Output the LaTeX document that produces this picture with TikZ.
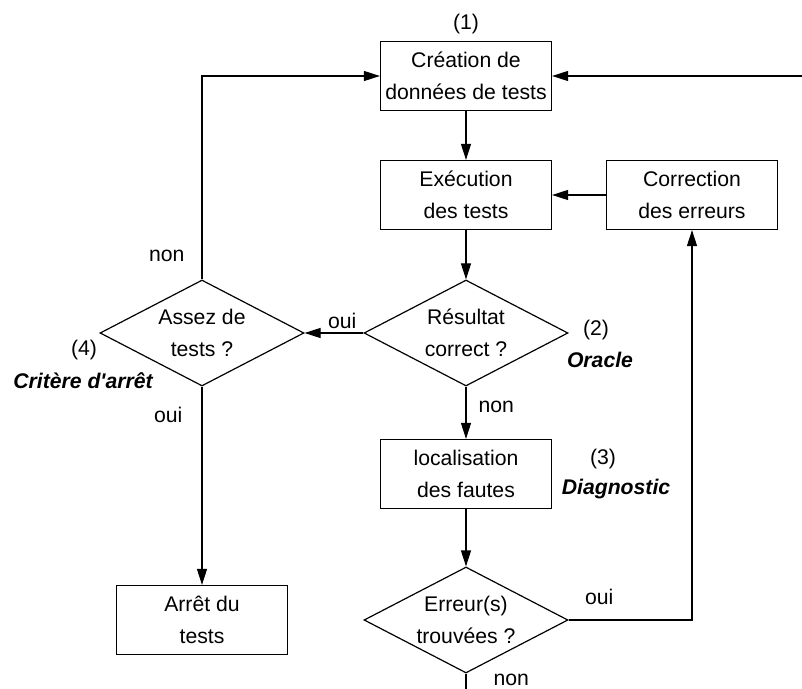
\documentclass[tikz,border=0pt]{standalone}
\usepackage{fontspec}
\setmainfont{Liberation Sans}[Ligatures=TeXOff]
\usetikzlibrary{shapes.geometric,arrows.meta,positioning}

\begin{document}
\begin{tikzpicture}[node distance = 60pt,on grid,line width=0.6pt,
    >={Triangle[length=8pt,width=5pt]},
    every node/.style={font=\fontsize{10.6}{15.8}\selectfont},
    box/.style={draw,align=center,minimum width=85.5pt,minimum height=34.5pt,inner sep=0pt},
    decision/.style={draw,diamond,aspect=1.9,align=center,minimum width=102pt,minimum height=53pt,inner sep=0pt},
    note/.style={font=\fontsize{10.6}{15.8}\selectfont\bfseries\itshape},
    lbl/.style={inner sep=0pt}]
    \useasboundingbox (-233pt,38pt) rectangle (168pt,-306.5pt);

    \node[box] (t_0) {Création de\\données de tests};
    \node[box] (t_1) [below=59.5pt of t_0] {Exécution\\des tests};
    \node[box] (t_2) [right=113pt of t_1] {Correction\\des erreurs};
    \node[decision] (d_0) [below=69pt of t_1] {Résultat\\correct ?};
    \node[decision] (d_1) [left=132pt of d_0] {Assez de\\tests ?};
    \node[box] (t_3) [below=70.5pt of d_0] {localisation\\des fautes};
    \node[decision] (d_2) [below=73pt of t_3] {Erreur(s)\\trouvées ?};
    \node[box] (t_4) [left=132pt of d_2] {Arrêt du\\tests};
    \coordinate[right=168pt of t_0] (in);
    \coordinate[below=34.5pt of d_2] (out);

    \node (n_1) [above=26pt of t_0] {(1)};
    \node (n_2) [above right=1.5pt and 65pt of d_0] {(2)};
    \node[note] (o_2) [below right=13.5pt and 67pt of d_0] {Oracle};
    \node (n_3) [above right=7.5pt and 68.5pt of t_3] {(3)};
    \node[note] (o_3) [below right=7.5pt and 75pt of t_3] {Diagnostic};
    \node (n_4) [below left=8.5pt and 59pt of d_1] {(4)};
    \node[note] (o_4) [below left=24pt and 59.5pt of d_1] {Critère d'arrêt};

    \path[->]
    (t_0) edge (t_1)
    (t_2) edge (t_1)
    (t_1) edge (d_0)
    (d_0) edge node[lbl,pos=0.36,above=2pt] {oui} (d_1)
    (d_1) edge node[lbl,pos=0.143,left=9.5pt] {oui} (t_4)
    (d_0) edge node[lbl,pos=0.39,right=6pt] {non} (t_3)
    (t_3) edge (d_2)
    (in) edge (t_0);
    \draw[->] (d_1.north) |- node[lbl,pos=0.058,left=8.5pt] {non} (t_0.west);
    \draw[->] (d_2.east) -| node[lbl,pos=0.124,above=7.5pt] {oui} (t_2.south);
    \draw (d_2.south) -- node[lbl,pos=0.44,right=13.5pt] {non} (out);
\end{tikzpicture}
\end{document}
